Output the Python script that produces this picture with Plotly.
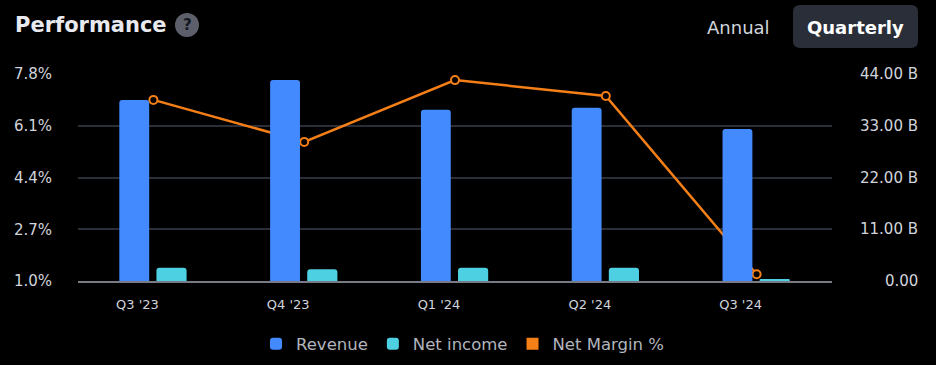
import plotly.graph_objects as go

quarters = ["Q3 '23", "Q4 '23", "Q1 '24", "Q2 '24", "Q3 '24"]
revenue_b = [38.5, 42.7, 36.4, 36.8, 32.3]
net_income_b = [2.8, 2.5, 2.8, 2.8, 0.4]
net_margin_pct = [6.95, 5.57, 7.60, 7.08, 1.22]
left_ticks = [1.0, 2.7, 4.4, 6.1, 7.8]
left_labels = ["1.0%", "2.7%", "4.4%", "6.1%", "7.8%"]
right_ticks = [0, 11, 22, 33, 44]
right_labels = ["0.00", "11.00 B", "22.00 B", "33.00 B", "44.00 B"]

W, H = 936, 365
L, R, T, B = 78, 832, 74, 281
FONT = "DejaVu Sans"
TXT = "#D1D4DC"

def px(x):
    return (x - L) / (R - L)

def py(y):
    return (B - y) / (B - T)

fig = go.Figure()
fig.add_trace(go.Bar(
    x=quarters, y=revenue_b, name="Revenue", yaxis="y2",
    marker=dict(color="#448AFF", cornerradius=3, line=dict(width=0)),
    width=0.198, offset=-0.226,
))
fig.add_trace(go.Bar(
    x=quarters, y=net_income_b, name="Net income", yaxis="y2",
    marker=dict(color="#4DD0E1", cornerradius=3, line=dict(width=0)),
    width=0.2, offset=0.02,
))
fig.add_trace(go.Scatter(
    x=quarters, y=net_margin_pct, name="Net Margin %", mode="lines+markers",
    line=dict(color="#F57F17", width=2.5),
    marker=dict(symbol="circle", size=8, color="#000000",
                line=dict(color="#F57F17", width=2)),
    showlegend=False,
))
# legend-only square entry for the line series
fig.add_trace(go.Bar(
    x=quarters, y=[None] * len(quarters), name="Net Margin %",
    marker=dict(color="#F57F17", line=dict(width=0)), width=0.01, offset=0,
))

annotations = []
for v, t in zip(right_ticks, right_labels):
    annotations.append(dict(
        x=px(920), xref="paper", y=v, yref="y2", text=t, showarrow=False,
        xanchor="right", yanchor="middle",
        font=dict(family=FONT, size=15, color=TXT),
    ))
annotations += [
    dict(x=px(13), y=py(25), xref="paper", yref="paper", text="<b>Performance</b>",
         showarrow=False, xanchor="left", yanchor="middle",
         font=dict(family=FONT, size=21, color="#E8EAF0")),
    dict(x=px(187), y=py(25), xref="paper", yref="paper", text="<b>?</b>",
         showarrow=False, xanchor="center", yanchor="middle",
         font=dict(family=FONT, size=15, color="#131722")),
    dict(x=px(738), y=py(27), xref="paper", yref="paper", text="Annual",
         showarrow=False, xanchor="center", yanchor="middle",
         font=dict(family=FONT, size=18, color=TXT)),
    dict(x=px(856), y=py(27), xref="paper", yref="paper", text="<b>Quarterly</b>",
         showarrow=False, xanchor="center", yanchor="middle",
         font=dict(family=FONT, size=18, color="#FFFFFF")),
]

def rounded_rect(x0, y0, x1, y1, r):
    X = px
    Y = py
    return (f"M {X(x0+r)},{Y(y0)} L {X(x1-r)},{Y(y0)} Q {X(x1)},{Y(y0)} {X(x1)},{Y(y0+r)} "
            f"L {X(x1)},{Y(y1-r)} Q {X(x1)},{Y(y1)} {X(x1-r)},{Y(y1)} "
            f"L {X(x0+r)},{Y(y1)} Q {X(x0)},{Y(y1)} {X(x0)},{Y(y1-r)} "
            f"L {X(x0)},{Y(y0+r)} Q {X(x0)},{Y(y0)} {X(x0+r)},{Y(y0)} Z")

shapes = [
    dict(type="path", xref="paper", yref="paper", path=rounded_rect(793, 5, 918, 48, 7),
         fillcolor="#2A2E39", line=dict(width=0), layer="below"),
    dict(type="circle", xref="paper", yref="paper",
         x0=px(175), x1=px(199), y0=py(37), y1=py(13),
         fillcolor="#5D606B", line=dict(width=0), layer="below"),
]

fig.update_layout(
    width=W, height=H,
    margin=dict(l=L, r=W - R, t=T, b=H - B, pad=0, autoexpand=False),
    paper_bgcolor="#000000", plot_bgcolor="#000000",
    barmode="overlay",
    showlegend=True,
    legend=dict(orientation="h", x=px(463), xanchor="center", y=py(344), yanchor="middle",
                font=dict(family=FONT, size=16.5, color="#B2B5BE"),
                itemclick=False, bgcolor="rgba(0,0,0,0)"),
    xaxis=dict(type="category", range=[-0.5, 4.5], showgrid=False,
               showline=True, linecolor="#787B86", linewidth=2,
               ticks="", tickfont=dict(family=FONT, size=13, color=TXT),
               ticklabelstandoff=10, ticklabelshift=-16, fixedrange=True),
    yaxis=dict(range=[1.0, 7.8], tickvals=left_ticks, ticktext=left_labels,
               showgrid=True, gridcolor="#2A2E39", gridwidth=1.5,
               zeroline=False, ticks="", ticklabelstandoff=25,
               tickfont=dict(family=FONT, size=15, color=TXT)),
    yaxis2=dict(range=[0, 44], overlaying="y", side="right", showgrid=False,
                zeroline=False, showticklabels=False, ticks=""),
    annotations=annotations,
    shapes=shapes,
)

fig.write_html("out.html", config={"displayModeBar": False},
               post_script="document.body.style.margin='0';document.body.style.background='#000';")
